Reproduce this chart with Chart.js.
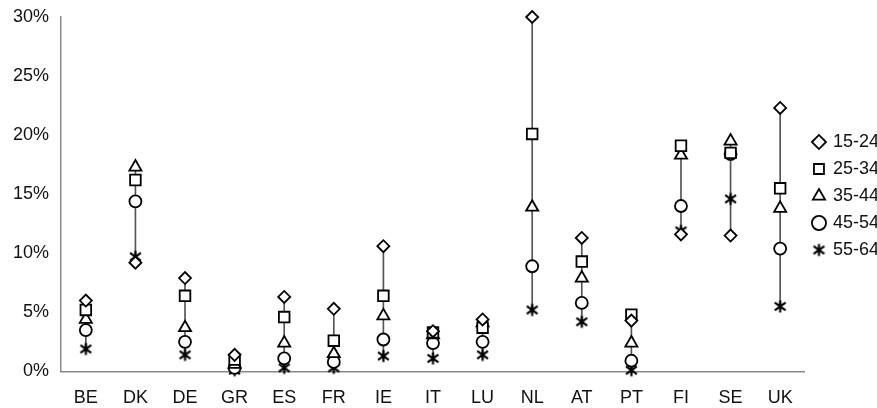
<!DOCTYPE html>
<html>
<head>
<meta charset="utf-8">
<script src="https://cdn.jsdelivr.net/npm/chart.js@4/dist/chart.umd.min.js"></script>
<style>
  html, body { margin: 0; padding: 0; background: #fff; overflow: hidden; }
  #wrap { position: relative; width: 889px; height: 408px; }
</style>
</head>
<body>
<div id="wrap"><canvas id="chart"></canvas></div>
<script>
// Countries and shares per age group (%)
const countries = ['BE', 'DK', 'DE', 'GR', 'ES', 'FR', 'IE', 'IT', 'LU', 'NL', 'AT', 'PT', 'FI', 'SE', 'UK'];
const age15to24 = [6.0, 9.2, 7.9, 1.4, 6.3, 5.3, 10.6, 3.4, 4.4, 30.0, 11.3, 4.3, 11.6, 11.5, 22.3];
const age25to34 = [5.2, 16.2, 6.4, 1.0, 4.6, 2.6, 6.4, 3.3, 3.7, 20.1, 9.3, 4.8, 19.1, 18.5, 15.5];
const age35to44 = [4.4, 17.3, 3.7, 0.6, 2.4, 1.5, 4.7, 3.1, 4.1, 13.9, 7.9, 2.4, 18.3, 19.5, 13.8];
const age45to54 = [3.5, 14.4, 2.5, 0.3, 1.1, 0.8, 2.7, 2.4, 2.5, 8.9, 5.8, 0.9, 14.0, 18.4, 10.4];
const age55to64 = [1.9, 9.7, 1.4, 0.1, 0.3, 0.3, 1.3, 1.1, 1.4, 5.2, 4.2, 0.1, 11.9, 14.6, 5.5];
const ageLabels = ['15-24', '25-34', '35-44', '45-54', '55-64'];
const yTicks = [0, 5, 10, 15, 20, 25, 30];

const allSeries = [age15to24, age25to34, age35to44, age45to54, age55to64];

// high-low range per country
const ranges = countries.map((c, i) => {
    const vals = allSeries.map(s => s[i]);
    return [Math.min(...vals), Math.max(...vals)];
});

// asterisk marker for 55-64 (x plus vertical stroke)
function makeStar(size) {
    const cv = document.createElement('canvas');
    cv.width = size;
    cv.height = size;
    const ctx = cv.getContext('2d');
    const c = size / 2;
    const r = size / 2 - 1.5;
    ctx.strokeStyle = '#000';
    ctx.lineWidth = 2.2;
    ctx.beginPath();
    ctx.moveTo(c - r * 0.9, c - r * 0.65);
    ctx.lineTo(c + r * 0.9, c + r * 0.65);
    ctx.moveTo(c + r * 0.9, c - r * 0.65);
    ctx.lineTo(c - r * 0.9, c + r * 0.65);
    ctx.moveTo(c, c - r);
    ctx.lineTo(c, c + r);
    ctx.stroke();
    return cv;
}
const starImg = makeStar(15);

const styles = ['rectRot', 'rect', 'triangle', 'circle', starImg];
const radii = [6, 7.5, 7, 6, 6];
const font = { family: 'Liberation Sans, Arial, sans-serif', size: 18 };

const datasets = allSeries.map((s, k) => ({
    type: 'line',
    label: ageLabels[k],
    data: s,
    showLine: false,
    clip: false,
    pointStyle: styles[k],
    pointRadius: radii[k],
    pointBorderColor: '#000',
    pointBackgroundColor: '#fff',
    pointBorderWidth: 1.8,
    borderColor: '#000',
    backgroundColor: '#fff'
}));

datasets.push({
    type: 'bar',
    label: 'range',
    data: ranges,
    backgroundColor: '#555',
    barThickness: 1,
    grouped: false
});

new Chart(document.getElementById('chart'), {
    data: { labels: countries, datasets: datasets },
    options: {
        responsive: true,
        maintainAspectRatio: false,
        animation: false,
        layout: { padding: { top: 17, left: 9, right: 0, bottom: -9 } },
        plugins: {
            tooltip: { enabled: false },
            legend: {
                position: 'right',
                align: 'start',
                // empty title only pushes the entries down
                title: {
                    display: true,
                    text: '',
                    font: { size: 10, lineHeight: 1 },
                    padding: { top: 97, bottom: 0 }
                },
                labels: {
                    usePointStyle: true,
                    boxWidth: 10,
                    boxHeight: 10,
                    padding: 9,
                    color: '#111',
                    font: font,
                    filter: item => item.text !== 'range'
                }
            }
        },
        scales: {
            x: {
                offset: true,
                grid: { display: false },
                border: { color: '#888', width: 1.5 },
                ticks: { color: '#111', padding: 8, font: font }
            },
            y: {
                min: 0,
                max: 30,
                grid: { display: false },
                border: { color: '#888', width: 1.5 },
                afterBuildTicks: axis => { axis.ticks = yTicks.map(v => ({ value: v })); },
                ticks: {
                    color: '#111',
                    padding: 4,
                    font: font,
                    callback: v => v + '%'
                }
            }
        }
    }
});
</script>
</body>
</html>
